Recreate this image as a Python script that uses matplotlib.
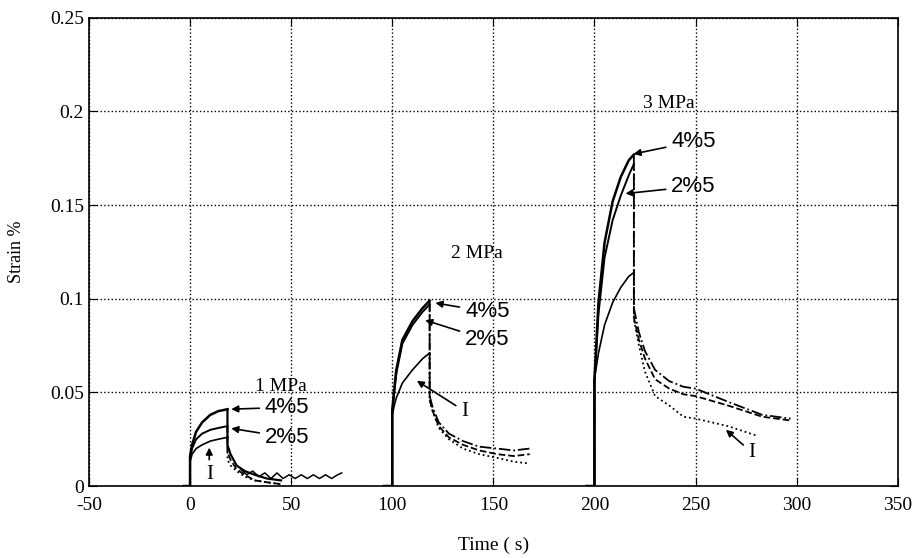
import matplotlib.pyplot as plt

plt.rcParams['axes.unicode_minus'] = False

# 1 MPa creep (loading) and recovery
load1_t = [-3, 0, 0, 1, 3, 6, 10, 14, 18.5]
load1_45 = [0, 0, 0.016, 0.022, 0.029, 0.034, 0.038, 0.040, 0.041]
load1_25 = [0, 0, 0.015, 0.020, 0.025, 0.028, 0.030, 0.031, 0.032]
load1_I = [0, 0, 0.013, 0.017, 0.020, 0.022, 0.024, 0.025, 0.026]
rec1_t = [18.5, 18.5, 20, 23, 27, 32, 38, 45]
rec1_45 = [0.041, 0.022, 0.017, 0.011, 0.008, 0.006, 0.004, 0.003]
rec1_25 = [0.032, 0.018, 0.014, 0.009, 0.006, 0.003, 0.002, 0.001]
rec1_I = [0.026, 0.014, 0.011, 0.008, 0.005, 0.003, 0.002, 0.001]
tail1_t = [25, 28, 31, 34, 37, 40, 43, 46, 49, 52, 55, 58, 61, 64, 67, 70, 73, 75]
tail1_s = [0.009, 0.006, 0.008, 0.005, 0.007, 0.004, 0.007, 0.004, 0.006, 0.004,
           0.006, 0.004, 0.006, 0.004, 0.006, 0.004, 0.006, 0.007]

# 2 MPa
load2_t = [96, 100, 100, 101, 102, 105, 110, 115, 118.5]
load2_45 = [0, 0, 0.040, 0.052, 0.062, 0.078, 0.088, 0.095, 0.099]
load2_25 = [0, 0, 0.040, 0.050, 0.060, 0.076, 0.086, 0.093, 0.097]
load2_I = [0, 0, 0.038, 0.043, 0.047, 0.055, 0.062, 0.068, 0.071]
rec2_t = [118.5, 118.5, 120, 123, 128, 135, 143, 152, 160, 168]
rec2_45 = [0.099, 0.048, 0.042, 0.034, 0.028, 0.024, 0.021, 0.020, 0.019, 0.020]
rec2_25 = [0.097, 0.046, 0.040, 0.032, 0.026, 0.022, 0.019, 0.017, 0.016, 0.017]
rec2_I = [0.071, 0.046, 0.040, 0.031, 0.025, 0.020, 0.017, 0.015, 0.013, 0.012]

# 3 MPa
load3_t = [196, 200, 200, 202, 205, 209, 213, 217, 219.5]
load3_45 = [0, 0, 0.057, 0.098, 0.130, 0.152, 0.165, 0.174, 0.177]
load3_25 = [0, 0, 0.055, 0.092, 0.122, 0.142, 0.155, 0.166, 0.172]
load3_I = [0, 0, 0.057, 0.071, 0.086, 0.098, 0.106, 0.112, 0.114]
rec3_t = [219.5, 219.5, 222, 225, 230, 237, 244, 250, 266, 283, 297]
rec3_45 = [0.177, 0.095, 0.082, 0.072, 0.062, 0.056, 0.053, 0.052, 0.045, 0.038, 0.036]
rec3_25 = [0.172, 0.090, 0.078, 0.068, 0.057, 0.052, 0.049, 0.048, 0.043, 0.037, 0.035]
rec3I_t = [219.5, 219.5, 222, 225, 230, 237, 244, 250, 266, 280]
rec3_I = [0.114, 0.089, 0.075, 0.061, 0.048, 0.043, 0.037, 0.036, 0.032, 0.027]

xticks = [-50, 0, 50, 100, 150, 200, 250, 300, 350]
yticks = [0, 0.05, 0.1, 0.15, 0.2, 0.25]
ytick_labels = ['0', '0.05', '0.1', '0.15', '0.2', '0.25']

serif = 'Liberation Serif'
sans = 'Liberation Sans'

fig = plt.figure(figsize=(9.17, 5.58), dpi=100)
ax = fig.add_axes([0.097, 0.129, 0.882, 0.839])

# loading parts look solid (dense data), recovery parts keep their own style
for t, a, b, c in [(load1_t, load1_45, load1_25, load1_I),
                   (load2_t, load2_45, load2_25, load2_I),
                   (load3_t, load3_45, load3_25, load3_I)]:
    ax.plot(t, a, color='black', lw=1.8)
    ax.plot(t, b, color='black', lw=1.4)
    ax.plot(t, c, color='black', lw=1.2)

ax.plot(rec1_t, rec1_45, color='black', lw=1.6)
ax.plot(rec1_t, rec1_25, color='black', lw=1.3, ls='--')
ax.plot(rec1_t, rec1_I, color='black', lw=1.3, ls=':')
ax.plot(tail1_t, tail1_s, color='black', lw=1.1)

ax.plot(rec2_t, rec2_45, color='black', lw=1.3, ls='-.')
ax.plot(rec2_t, rec2_25, color='black', lw=1.3, ls='--')
ax.plot(rec2_t, rec2_I, color='black', lw=1.3, ls=':')

ax.plot(rec3_t, rec3_45, color='black', lw=1.3, ls='-.')
ax.plot(rec3_t, rec3_25, color='black', lw=1.3, ls='--')
ax.plot(rec3I_t, rec3_I, color='black', lw=1.3, ls=':')

ax.set_xlim(-50, 350)
ax.set_ylim(0, 0.25)
ax.set_xticks(xticks)
ax.set_yticks(yticks)
ax.set_yticklabels(ytick_labels)
ax.grid(True, color='black', ls=':', lw=1)
ax.tick_params(direction='in', length=6, top=True, right=True, labelsize=14)
ax.tick_params(axis='x', pad=8)
for lab in ax.get_xticklabels() + ax.get_yticklabels():
    lab.set_family(serif)
for sp in ax.spines.values():
    sp.set_linewidth(1.2)

ax.set_xlabel('Time ( s)', fontsize=14, family=serif, labelpad=16)
ax.set_ylabel('Strain %', fontsize=13, family=serif, labelpad=18)

arr = dict(arrowstyle='-|>', color='black', lw=1.2, mutation_scale=10)

# 1 MPa labels
ax.text(45, 0.053, '1 MPa', fontsize=14, family=serif, ha='center', va='center')
ax.annotate('4%5', xy=(19, 0.041), xytext=(37, 0.042), fontsize=16, family=sans,
            va='center', arrowprops=arr)
ax.annotate('2%5', xy=(19, 0.031), xytext=(37, 0.026), fontsize=16, family=sans,
            va='center', arrowprops=arr)
ax.annotate('I', xy=(9.5, 0.022), xytext=(9.5, 0.006), fontsize=15, family=serif,
            ha='center', va='center', arrowprops=arr)

# 2 MPa labels
ax.text(142, 0.124, '2 MPa', fontsize=14, family=serif, ha='center', va='center')
ax.annotate('4%5', xy=(120, 0.098), xytext=(136, 0.093), fontsize=16, family=sans,
            va='center', arrowprops=arr)
ax.annotate('2%5', xy=(115, 0.089), xytext=(136, 0.078), fontsize=16, family=sans,
            va='center', arrowprops=arr)
ax.annotate('I', xy=(111, 0.057), xytext=(134, 0.040), fontsize=15, family=serif,
            va='center', arrowprops=arr)

# 3 MPa labels
ax.text(237, 0.204, '3 MPa', fontsize=14, family=serif, ha='center', va='center')
ax.annotate('4%5', xy=(218, 0.177), xytext=(238, 0.184), fontsize=16, family=sans,
            va='center', arrowprops=arr)
ax.annotate('2%5', xy=(214, 0.156), xytext=(238, 0.160), fontsize=16, family=sans,
            va='center', arrowprops=arr)
ax.annotate('I', xy=(264, 0.031), xytext=(276, 0.018), fontsize=15, family=serif,
            va='center', arrowprops=arr)

fig.savefig('out.png', dpi=100, facecolor='white')
